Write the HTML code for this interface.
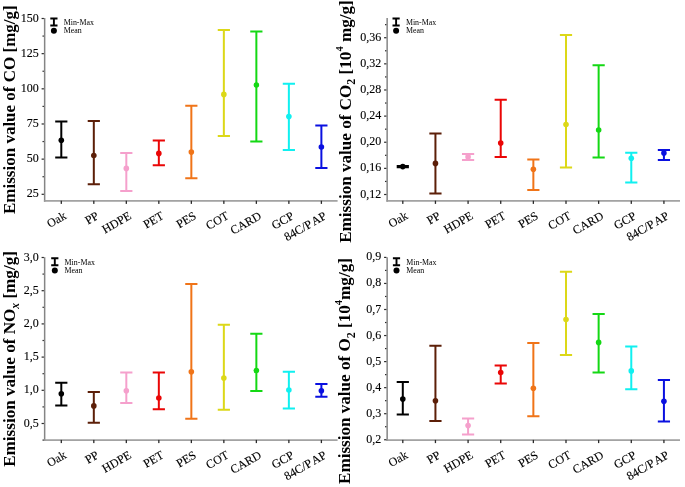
<!DOCTYPE html>
<html><head><meta charset="utf-8"><style>
html,body{margin:0;padding:0;background:#fff;}
svg{display:block;will-change:transform;}
text{font-family:"Liberation Serif", serif;fill:#000;}
.tl{font-size:12px;stroke:#000;stroke-width:0.12px;}
.xl{font-size:12px;stroke:#000;stroke-width:0.12px;}
.lg{font-size:7.9px;}
.yl{font-size:17.1px;font-weight:bold;fill:#000;}
</style></head><body>
<svg width="685" height="487" viewBox="0 0 685 487">
<rect width="685" height="487" fill="#fff"/>
<rect x="43.90" y="18.00" width="1.5" height="183.70" fill="#858585"/>
<rect x="43.90" y="200.10" width="293.70" height="1.6" fill="#999"/>
<rect x="41.60" y="17.90" width="2.30" height="1.2" fill="#2a2a2a"/>
<text x="38.70" y="21.50" text-anchor="end" class="tl">150</text>
<rect x="42.50" y="35.48" width="1.40" height="1.2" fill="#2a2a2a"/>
<rect x="41.60" y="53.06" width="2.30" height="1.2" fill="#2a2a2a"/>
<text x="38.70" y="56.66" text-anchor="end" class="tl">125</text>
<rect x="42.50" y="70.64" width="1.40" height="1.2" fill="#2a2a2a"/>
<rect x="41.60" y="88.22" width="2.30" height="1.2" fill="#2a2a2a"/>
<text x="38.70" y="91.82" text-anchor="end" class="tl">100</text>
<rect x="42.50" y="105.80" width="1.40" height="1.2" fill="#2a2a2a"/>
<rect x="41.60" y="123.38" width="2.30" height="1.2" fill="#2a2a2a"/>
<text x="38.70" y="126.98" text-anchor="end" class="tl">75</text>
<rect x="42.50" y="140.96" width="1.40" height="1.2" fill="#2a2a2a"/>
<rect x="41.60" y="158.54" width="2.30" height="1.2" fill="#2a2a2a"/>
<text x="38.70" y="162.14" text-anchor="end" class="tl">50</text>
<rect x="42.50" y="176.12" width="1.40" height="1.2" fill="#2a2a2a"/>
<rect x="41.60" y="193.70" width="2.30" height="1.2" fill="#2a2a2a"/>
<text x="38.70" y="197.30" text-anchor="end" class="tl">25</text>
<rect x="60.65" y="200.70" width="1.3" height="3.2" fill="#2a2a2a"/>
<text transform="translate(67.10,218.10) rotate(-30)" text-anchor="end" class="xl">Oak</text>
<rect x="93.16" y="200.70" width="1.3" height="3.2" fill="#2a2a2a"/>
<text transform="translate(99.61,218.10) rotate(-30)" text-anchor="end" class="xl">PP</text>
<rect x="125.67" y="200.70" width="1.3" height="3.2" fill="#2a2a2a"/>
<text transform="translate(132.12,218.10) rotate(-30)" text-anchor="end" class="xl">HDPE</text>
<rect x="158.18" y="200.70" width="1.3" height="3.2" fill="#2a2a2a"/>
<text transform="translate(164.63,218.10) rotate(-30)" text-anchor="end" class="xl">PET</text>
<rect x="190.69" y="200.70" width="1.3" height="3.2" fill="#2a2a2a"/>
<text transform="translate(197.14,218.10) rotate(-30)" text-anchor="end" class="xl">PES</text>
<rect x="223.20" y="200.70" width="1.3" height="3.2" fill="#2a2a2a"/>
<text transform="translate(229.65,218.10) rotate(-30)" text-anchor="end" class="xl">COT</text>
<rect x="255.71" y="200.70" width="1.3" height="3.2" fill="#2a2a2a"/>
<text transform="translate(262.16,218.10) rotate(-30)" text-anchor="end" class="xl">CARD</text>
<rect x="288.22" y="200.70" width="1.3" height="3.2" fill="#2a2a2a"/>
<text transform="translate(294.67,218.10) rotate(-30)" text-anchor="end" class="xl">GCP</text>
<rect x="320.73" y="200.70" width="1.3" height="3.2" fill="#2a2a2a"/>
<text transform="translate(327.18,218.10) rotate(-30)" text-anchor="end" class="xl">84C/P<tspan dx="2.2">AP</tspan></text>
<g stroke="#000000" stroke-width="2" fill="none"><path d="M55.20,121.60H67.40M61.30,121.60V157.50M55.20,157.50H67.40"/></g>
<circle cx="61.30" cy="140.30" r="2.8" fill="#000000"/>
<g stroke="#5c1f08" stroke-width="2" fill="none"><path d="M87.71,121.00H99.91M93.81,121.00V184.20M87.71,184.20H99.91"/></g>
<circle cx="93.81" cy="155.50" r="2.8" fill="#5c1f08"/>
<g stroke="#f5a0cc" stroke-width="2" fill="none"><path d="M120.22,153.00H132.42M126.32,153.00V191.00M120.22,191.00H132.42"/></g>
<circle cx="126.32" cy="168.40" r="2.8" fill="#f5a0cc"/>
<g stroke="#ea0606" stroke-width="2" fill="none"><path d="M152.73,140.50H164.93M158.83,140.50V165.30M152.73,165.30H164.93"/></g>
<circle cx="158.83" cy="153.40" r="2.8" fill="#ea0606"/>
<g stroke="#f07418" stroke-width="2" fill="none"><path d="M185.24,105.80H197.44M191.34,105.80V178.30M185.24,178.30H197.44"/></g>
<circle cx="191.34" cy="152.10" r="2.8" fill="#f07418"/>
<g stroke="#dcd818" stroke-width="2" fill="none"><path d="M217.75,29.90H229.95M223.85,29.90V136.00M217.75,136.00H229.95"/></g>
<circle cx="223.85" cy="94.40" r="2.8" fill="#dcd818"/>
<g stroke="#14d814" stroke-width="2" fill="none"><path d="M250.26,31.50H262.46M256.36,31.50V141.60M250.26,141.60H262.46"/></g>
<circle cx="256.36" cy="85.00" r="2.8" fill="#14d814"/>
<g stroke="#10f0f0" stroke-width="2" fill="none"><path d="M282.77,83.80H294.97M288.87,83.80V150.10M282.77,150.10H294.97"/></g>
<circle cx="288.87" cy="116.60" r="2.8" fill="#10f0f0"/>
<g stroke="#0a10e0" stroke-width="2" fill="none"><path d="M315.28,125.60H327.48M321.38,125.60V168.00M315.28,168.00H327.48"/></g>
<circle cx="321.38" cy="147.00" r="2.8" fill="#0a10e0"/>
<g stroke="#000" stroke-width="1.9" fill="none"><path d="M50.30,18.50H57.50M53.90,18.50V25.50M50.30,25.50H57.50"/></g>
<circle cx="53.90" cy="30.80" r="3" fill="#000"/>
<text x="63.70" y="24.90" class="lg">Min-Max</text>
<text x="63.70" y="32.90" class="lg">Mean</text>
<text transform="translate(14.6,214.0) rotate(-90)" class="yl" style="font-size:17px">Emission value of CO [mg/g]</text>
<rect x="386.40" y="18.00" width="1.5" height="183.70" fill="#858585"/>
<rect x="386.40" y="200.10" width="293.60" height="1.6" fill="#999"/>
<rect x="385.00" y="24.05" width="1.40" height="1.2" fill="#2a2a2a"/>
<rect x="384.10" y="37.12" width="2.30" height="1.2" fill="#2a2a2a"/>
<text x="381.20" y="40.72" text-anchor="end" class="tl">0,36</text>
<rect x="385.00" y="50.18" width="1.40" height="1.2" fill="#2a2a2a"/>
<rect x="384.10" y="63.25" width="2.30" height="1.2" fill="#2a2a2a"/>
<text x="381.20" y="66.85" text-anchor="end" class="tl">0,32</text>
<rect x="385.00" y="76.32" width="1.40" height="1.2" fill="#2a2a2a"/>
<rect x="384.10" y="89.38" width="2.30" height="1.2" fill="#2a2a2a"/>
<text x="381.20" y="92.98" text-anchor="end" class="tl">0,28</text>
<rect x="385.00" y="102.44" width="1.40" height="1.2" fill="#2a2a2a"/>
<rect x="384.10" y="115.51" width="2.30" height="1.2" fill="#2a2a2a"/>
<text x="381.20" y="119.11" text-anchor="end" class="tl">0,24</text>
<rect x="385.00" y="128.58" width="1.40" height="1.2" fill="#2a2a2a"/>
<rect x="384.10" y="141.64" width="2.30" height="1.2" fill="#2a2a2a"/>
<text x="381.20" y="145.24" text-anchor="end" class="tl">0,20</text>
<rect x="385.00" y="154.71" width="1.40" height="1.2" fill="#2a2a2a"/>
<rect x="384.10" y="167.77" width="2.30" height="1.2" fill="#2a2a2a"/>
<text x="381.20" y="171.37" text-anchor="end" class="tl">0,16</text>
<rect x="385.00" y="180.84" width="1.40" height="1.2" fill="#2a2a2a"/>
<rect x="384.10" y="193.90" width="2.30" height="1.2" fill="#2a2a2a"/>
<text x="381.20" y="197.50" text-anchor="end" class="tl">0,12</text>
<rect x="402.15" y="200.70" width="1.3" height="3.2" fill="#2a2a2a"/>
<text transform="translate(408.60,218.10) rotate(-30)" text-anchor="end" class="xl">Oak</text>
<rect x="434.79" y="200.70" width="1.3" height="3.2" fill="#2a2a2a"/>
<text transform="translate(441.24,218.10) rotate(-30)" text-anchor="end" class="xl">PP</text>
<rect x="467.43" y="200.70" width="1.3" height="3.2" fill="#2a2a2a"/>
<text transform="translate(473.88,218.10) rotate(-30)" text-anchor="end" class="xl">HDPE</text>
<rect x="500.07" y="200.70" width="1.3" height="3.2" fill="#2a2a2a"/>
<text transform="translate(506.52,218.10) rotate(-30)" text-anchor="end" class="xl">PET</text>
<rect x="532.71" y="200.70" width="1.3" height="3.2" fill="#2a2a2a"/>
<text transform="translate(539.16,218.10) rotate(-30)" text-anchor="end" class="xl">PES</text>
<rect x="565.35" y="200.70" width="1.3" height="3.2" fill="#2a2a2a"/>
<text transform="translate(571.80,218.10) rotate(-30)" text-anchor="end" class="xl">COT</text>
<rect x="597.99" y="200.70" width="1.3" height="3.2" fill="#2a2a2a"/>
<text transform="translate(604.44,218.10) rotate(-30)" text-anchor="end" class="xl">CARD</text>
<rect x="630.63" y="200.70" width="1.3" height="3.2" fill="#2a2a2a"/>
<text transform="translate(637.08,218.10) rotate(-30)" text-anchor="end" class="xl">GCP</text>
<rect x="663.27" y="200.70" width="1.3" height="3.2" fill="#2a2a2a"/>
<text transform="translate(669.72,218.10) rotate(-30)" text-anchor="end" class="xl">84C/P<tspan dx="2.2">AP</tspan></text>
<g stroke="#000000" stroke-width="2" fill="none"><path d="M396.70,166.00H408.90M402.80,166.00V167.20M396.70,167.20H408.90"/></g>
<circle cx="402.80" cy="166.60" r="2.8" fill="#000000"/>
<g stroke="#5c1f08" stroke-width="2" fill="none"><path d="M429.34,133.40H441.54M435.44,133.40V193.50M429.34,193.50H441.54"/></g>
<circle cx="435.44" cy="163.40" r="2.8" fill="#5c1f08"/>
<g stroke="#f5a0cc" stroke-width="2" fill="none"><path d="M461.98,154.00H474.18M468.08,154.00V160.00M461.98,160.00H474.18"/></g>
<circle cx="468.08" cy="156.90" r="2.8" fill="#f5a0cc"/>
<g stroke="#ea0606" stroke-width="2" fill="none"><path d="M494.62,99.70H506.82M500.72,99.70V156.90M494.62,156.90H506.82"/></g>
<circle cx="500.72" cy="143.10" r="2.8" fill="#ea0606"/>
<g stroke="#f07418" stroke-width="2" fill="none"><path d="M527.26,159.60H539.46M533.36,159.60V189.90M527.26,189.90H539.46"/></g>
<circle cx="533.36" cy="169.20" r="2.8" fill="#f07418"/>
<g stroke="#dcd818" stroke-width="2" fill="none"><path d="M559.90,34.90H572.10M566.00,34.90V167.40M559.90,167.40H572.10"/></g>
<circle cx="566.00" cy="124.50" r="2.8" fill="#dcd818"/>
<g stroke="#14d814" stroke-width="2" fill="none"><path d="M592.54,65.30H604.74M598.64,65.30V157.40M592.54,157.40H604.74"/></g>
<circle cx="598.64" cy="130.00" r="2.8" fill="#14d814"/>
<g stroke="#10f0f0" stroke-width="2" fill="none"><path d="M625.18,152.80H637.38M631.28,152.80V182.40M625.18,182.40H637.38"/></g>
<circle cx="631.28" cy="158.20" r="2.8" fill="#10f0f0"/>
<g stroke="#0a10e0" stroke-width="2" fill="none"><path d="M657.82,150.00H670.02M663.92,150.00V160.00M657.82,160.00H670.02"/></g>
<circle cx="663.92" cy="153.10" r="2.8" fill="#0a10e0"/>
<g stroke="#000" stroke-width="1.9" fill="none"><path d="M392.50,18.50H399.70M396.10,18.50V25.50M392.50,25.50H399.70"/></g>
<circle cx="396.10" cy="30.80" r="3" fill="#000"/>
<text x="405.90" y="24.90" class="lg">Min-Max</text>
<text x="405.90" y="32.90" class="lg">Mean</text>
<text transform="translate(350.8,242.8) rotate(-90)" class="yl">Emission value of CO<tspan dy="4.3" font-size="12">2</tspan><tspan dy="-4.3"> [10</tspan><tspan dy="-8" font-size="10.5">4</tspan><tspan dy="8"> mg/g]</tspan></text>
<rect x="43.90" y="257.20" width="1.5" height="183.70" fill="#858585"/>
<rect x="43.90" y="439.30" width="293.70" height="1.6" fill="#999"/>
<rect x="41.60" y="256.90" width="2.30" height="1.2" fill="#2a2a2a"/>
<text x="38.70" y="260.50" text-anchor="end" class="tl">3,0</text>
<rect x="42.50" y="273.50" width="1.40" height="1.2" fill="#2a2a2a"/>
<rect x="41.60" y="290.10" width="2.30" height="1.2" fill="#2a2a2a"/>
<text x="38.70" y="293.70" text-anchor="end" class="tl">2,5</text>
<rect x="42.50" y="306.70" width="1.40" height="1.2" fill="#2a2a2a"/>
<rect x="41.60" y="323.30" width="2.30" height="1.2" fill="#2a2a2a"/>
<text x="38.70" y="326.90" text-anchor="end" class="tl">2,0</text>
<rect x="42.50" y="339.90" width="1.40" height="1.2" fill="#2a2a2a"/>
<rect x="41.60" y="356.50" width="2.30" height="1.2" fill="#2a2a2a"/>
<text x="38.70" y="360.10" text-anchor="end" class="tl">1,5</text>
<rect x="42.50" y="373.10" width="1.40" height="1.2" fill="#2a2a2a"/>
<rect x="41.60" y="389.70" width="2.30" height="1.2" fill="#2a2a2a"/>
<text x="38.70" y="393.30" text-anchor="end" class="tl">1,0</text>
<rect x="42.50" y="406.30" width="1.40" height="1.2" fill="#2a2a2a"/>
<rect x="41.60" y="422.90" width="2.30" height="1.2" fill="#2a2a2a"/>
<text x="38.70" y="426.50" text-anchor="end" class="tl">0,5</text>
<rect x="42.50" y="439.50" width="1.40" height="1.2" fill="#2a2a2a"/>
<rect x="60.65" y="439.90" width="1.3" height="3.2" fill="#2a2a2a"/>
<text transform="translate(67.10,457.30) rotate(-30)" text-anchor="end" class="xl">Oak</text>
<rect x="93.16" y="439.90" width="1.3" height="3.2" fill="#2a2a2a"/>
<text transform="translate(99.61,457.30) rotate(-30)" text-anchor="end" class="xl">PP</text>
<rect x="125.67" y="439.90" width="1.3" height="3.2" fill="#2a2a2a"/>
<text transform="translate(132.12,457.30) rotate(-30)" text-anchor="end" class="xl">HDPE</text>
<rect x="158.18" y="439.90" width="1.3" height="3.2" fill="#2a2a2a"/>
<text transform="translate(164.63,457.30) rotate(-30)" text-anchor="end" class="xl">PET</text>
<rect x="190.69" y="439.90" width="1.3" height="3.2" fill="#2a2a2a"/>
<text transform="translate(197.14,457.30) rotate(-30)" text-anchor="end" class="xl">PES</text>
<rect x="223.20" y="439.90" width="1.3" height="3.2" fill="#2a2a2a"/>
<text transform="translate(229.65,457.30) rotate(-30)" text-anchor="end" class="xl">COT</text>
<rect x="255.71" y="439.90" width="1.3" height="3.2" fill="#2a2a2a"/>
<text transform="translate(262.16,457.30) rotate(-30)" text-anchor="end" class="xl">CARD</text>
<rect x="288.22" y="439.90" width="1.3" height="3.2" fill="#2a2a2a"/>
<text transform="translate(294.67,457.30) rotate(-30)" text-anchor="end" class="xl">GCP</text>
<rect x="320.73" y="439.90" width="1.3" height="3.2" fill="#2a2a2a"/>
<text transform="translate(327.18,457.30) rotate(-30)" text-anchor="end" class="xl">84C/P<tspan dx="2.2">AP</tspan></text>
<g stroke="#000000" stroke-width="2" fill="none"><path d="M55.20,382.80H67.40M61.30,382.80V405.40M55.20,405.40H67.40"/></g>
<circle cx="61.30" cy="393.80" r="2.8" fill="#000000"/>
<g stroke="#5c1f08" stroke-width="2" fill="none"><path d="M87.71,391.90H99.91M93.81,391.90V422.80M87.71,422.80H99.91"/></g>
<circle cx="93.81" cy="405.90" r="2.8" fill="#5c1f08"/>
<g stroke="#f5a0cc" stroke-width="2" fill="none"><path d="M120.22,372.50H132.42M126.32,372.50V402.90M120.22,402.90H132.42"/></g>
<circle cx="126.32" cy="390.70" r="2.8" fill="#f5a0cc"/>
<g stroke="#ea0606" stroke-width="2" fill="none"><path d="M152.73,372.50H164.93M158.83,372.50V409.20M152.73,409.20H164.93"/></g>
<circle cx="158.83" cy="398.00" r="2.8" fill="#ea0606"/>
<g stroke="#f07418" stroke-width="2" fill="none"><path d="M185.24,284.00H197.44M191.34,284.00V418.80M185.24,418.80H197.44"/></g>
<circle cx="191.34" cy="371.80" r="2.8" fill="#f07418"/>
<g stroke="#dcd818" stroke-width="2" fill="none"><path d="M217.75,324.80H229.95M223.85,324.80V409.80M217.75,409.80H229.95"/></g>
<circle cx="223.85" cy="378.10" r="2.8" fill="#dcd818"/>
<g stroke="#14d814" stroke-width="2" fill="none"><path d="M250.26,333.80H262.46M256.36,333.80V390.90M250.26,390.90H262.46"/></g>
<circle cx="256.36" cy="370.50" r="2.8" fill="#14d814"/>
<g stroke="#10f0f0" stroke-width="2" fill="none"><path d="M282.77,371.80H294.97M288.87,371.80V408.50M282.77,408.50H294.97"/></g>
<circle cx="288.87" cy="390.00" r="2.8" fill="#10f0f0"/>
<g stroke="#0a10e0" stroke-width="2" fill="none"><path d="M315.28,384.00H327.48M321.38,384.00V396.70M315.28,396.70H327.48"/></g>
<circle cx="321.38" cy="390.70" r="2.8" fill="#0a10e0"/>
<g stroke="#000" stroke-width="1.9" fill="none"><path d="M51.20,258.30H58.40M54.80,258.30V265.30M51.20,265.30H58.40"/></g>
<circle cx="54.80" cy="270.60" r="3" fill="#000"/>
<text x="64.60" y="264.70" class="lg">Min-Max</text>
<text x="64.60" y="272.70" class="lg">Mean</text>
<text transform="translate(14.6,466.8) rotate(-90)" class="yl">Emission value of NO<tspan dy="4.5" font-size="11.6" font-style="italic">x</tspan><tspan dy="-4.5"> [mg/g]</tspan></text>
<rect x="386.40" y="257.30" width="1.5" height="183.60" fill="#858585"/>
<rect x="386.40" y="439.30" width="293.60" height="1.6" fill="#999"/>
<rect x="384.10" y="256.80" width="2.30" height="1.2" fill="#2a2a2a"/>
<text x="381.20" y="260.40" text-anchor="end" class="tl">0,9</text>
<rect x="385.00" y="269.82" width="1.40" height="1.2" fill="#2a2a2a"/>
<rect x="384.10" y="282.85" width="2.30" height="1.2" fill="#2a2a2a"/>
<text x="381.20" y="286.45" text-anchor="end" class="tl">0,8</text>
<rect x="385.00" y="295.88" width="1.40" height="1.2" fill="#2a2a2a"/>
<rect x="384.10" y="308.90" width="2.30" height="1.2" fill="#2a2a2a"/>
<text x="381.20" y="312.50" text-anchor="end" class="tl">0,7</text>
<rect x="385.00" y="321.92" width="1.40" height="1.2" fill="#2a2a2a"/>
<rect x="384.10" y="334.95" width="2.30" height="1.2" fill="#2a2a2a"/>
<text x="381.20" y="338.55" text-anchor="end" class="tl">0,6</text>
<rect x="385.00" y="347.97" width="1.40" height="1.2" fill="#2a2a2a"/>
<rect x="384.10" y="361.00" width="2.30" height="1.2" fill="#2a2a2a"/>
<text x="381.20" y="364.60" text-anchor="end" class="tl">0,5</text>
<rect x="385.00" y="374.02" width="1.40" height="1.2" fill="#2a2a2a"/>
<rect x="384.10" y="387.05" width="2.30" height="1.2" fill="#2a2a2a"/>
<text x="381.20" y="390.65" text-anchor="end" class="tl">0,4</text>
<rect x="385.00" y="400.07" width="1.40" height="1.2" fill="#2a2a2a"/>
<rect x="384.10" y="413.10" width="2.30" height="1.2" fill="#2a2a2a"/>
<text x="381.20" y="416.70" text-anchor="end" class="tl">0,3</text>
<rect x="385.00" y="426.12" width="1.40" height="1.2" fill="#2a2a2a"/>
<rect x="384.10" y="439.15" width="2.30" height="1.2" fill="#2a2a2a"/>
<text x="381.20" y="442.75" text-anchor="end" class="tl">0,2</text>
<rect x="402.15" y="439.90" width="1.3" height="3.2" fill="#2a2a2a"/>
<text transform="translate(408.60,457.30) rotate(-30)" text-anchor="end" class="xl">Oak</text>
<rect x="434.79" y="439.90" width="1.3" height="3.2" fill="#2a2a2a"/>
<text transform="translate(441.24,457.30) rotate(-30)" text-anchor="end" class="xl">PP</text>
<rect x="467.43" y="439.90" width="1.3" height="3.2" fill="#2a2a2a"/>
<text transform="translate(473.88,457.30) rotate(-30)" text-anchor="end" class="xl">HDPE</text>
<rect x="500.07" y="439.90" width="1.3" height="3.2" fill="#2a2a2a"/>
<text transform="translate(506.52,457.30) rotate(-30)" text-anchor="end" class="xl">PET</text>
<rect x="532.71" y="439.90" width="1.3" height="3.2" fill="#2a2a2a"/>
<text transform="translate(539.16,457.30) rotate(-30)" text-anchor="end" class="xl">PES</text>
<rect x="565.35" y="439.90" width="1.3" height="3.2" fill="#2a2a2a"/>
<text transform="translate(571.80,457.30) rotate(-30)" text-anchor="end" class="xl">COT</text>
<rect x="597.99" y="439.90" width="1.3" height="3.2" fill="#2a2a2a"/>
<text transform="translate(604.44,457.30) rotate(-30)" text-anchor="end" class="xl">CARD</text>
<rect x="630.63" y="439.90" width="1.3" height="3.2" fill="#2a2a2a"/>
<text transform="translate(637.08,457.30) rotate(-30)" text-anchor="end" class="xl">GCP</text>
<rect x="663.27" y="439.90" width="1.3" height="3.2" fill="#2a2a2a"/>
<text transform="translate(669.72,457.30) rotate(-30)" text-anchor="end" class="xl">84C/P<tspan dx="2.2">AP</tspan></text>
<g stroke="#000000" stroke-width="2" fill="none"><path d="M396.70,381.90H408.90M402.80,381.90V414.50M396.70,414.50H408.90"/></g>
<circle cx="402.80" cy="399.10" r="2.8" fill="#000000"/>
<g stroke="#5c1f08" stroke-width="2" fill="none"><path d="M429.34,345.80H441.54M435.44,345.80V421.10M429.34,421.10H441.54"/></g>
<circle cx="435.44" cy="400.80" r="2.8" fill="#5c1f08"/>
<g stroke="#f5a0cc" stroke-width="2" fill="none"><path d="M461.98,418.50H474.18M468.08,418.50V434.50M461.98,434.50H474.18"/></g>
<circle cx="468.08" cy="425.60" r="2.8" fill="#f5a0cc"/>
<g stroke="#ea0606" stroke-width="2" fill="none"><path d="M494.62,365.40H506.82M500.72,365.40V383.60M494.62,383.60H506.82"/></g>
<circle cx="500.72" cy="372.50" r="2.8" fill="#ea0606"/>
<g stroke="#f07418" stroke-width="2" fill="none"><path d="M527.26,343.10H539.46M533.36,343.10V416.20M527.26,416.20H539.46"/></g>
<circle cx="533.36" cy="388.20" r="2.8" fill="#f07418"/>
<g stroke="#dcd818" stroke-width="2" fill="none"><path d="M559.90,271.80H572.10M566.00,271.80V354.90M559.90,354.90H572.10"/></g>
<circle cx="566.00" cy="319.50" r="2.8" fill="#dcd818"/>
<g stroke="#14d814" stroke-width="2" fill="none"><path d="M592.54,314.00H604.74M598.64,314.00V372.60M592.54,372.60H604.74"/></g>
<circle cx="598.64" cy="342.40" r="2.8" fill="#14d814"/>
<g stroke="#10f0f0" stroke-width="2" fill="none"><path d="M625.18,346.50H637.38M631.28,346.50V389.30M625.18,389.30H637.38"/></g>
<circle cx="631.28" cy="370.90" r="2.8" fill="#10f0f0"/>
<g stroke="#0a10e0" stroke-width="2" fill="none"><path d="M657.82,380.10H670.02M663.92,380.10V421.50M657.82,421.50H670.02"/></g>
<circle cx="663.92" cy="401.20" r="2.8" fill="#0a10e0"/>
<g stroke="#000" stroke-width="1.9" fill="none"><path d="M392.90,258.20H400.10M396.50,258.20V265.20M392.90,265.20H400.10"/></g>
<circle cx="396.50" cy="270.50" r="3" fill="#000"/>
<text x="406.30" y="264.60" class="lg">Min-Max</text>
<text x="406.30" y="272.60" class="lg">Mean</text>
<text transform="translate(350.2,484.0) rotate(-90)" class="yl">Emission value of O<tspan dy="4.3" font-size="12">2</tspan><tspan dy="-4.3"> [10</tspan><tspan dy="-8" font-size="10.5">4</tspan><tspan dy="8">mg/g]</tspan></text>
</svg>
</body></html>
